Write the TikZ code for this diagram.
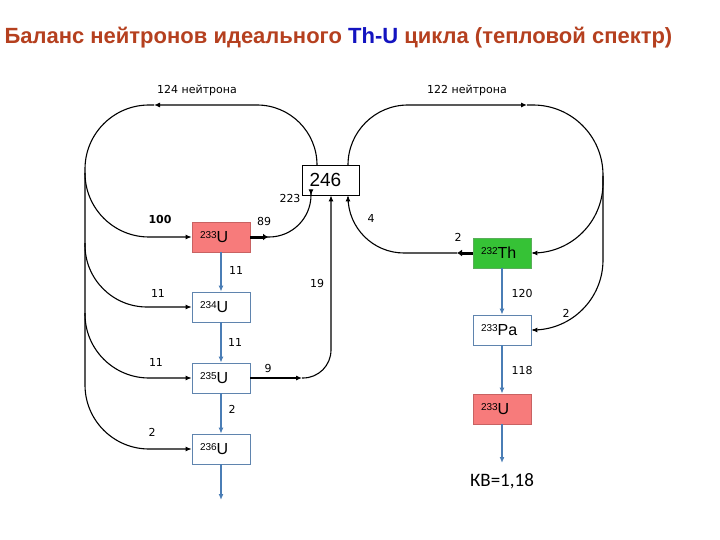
\documentclass[tikz,border=0pt]{standalone}
\usepackage{fontspec}
\setmainfont{Carlito}
\newfontfamily\titlefont{Liberation Sans}
\newfontfamily\numfont{DejaVu Sans}
\usetikzlibrary{arrows.meta, positioning}
\definecolor{ctitle}{HTML}{B5401F}
\definecolor{cthu}{HTML}{1414C0}
\definecolor{cred}{HTML}{F77B7B}
\definecolor{credline}{HTML}{C86262}
\definecolor{cgreen}{HTML}{36C236}
\definecolor{cgreenline}{HTML}{5AAE5A}
\definecolor{cblue}{HTML}{4A7DB5}
\definecolor{cboxline}{HTML}{5F84AE}
\newcommand\nucl[2]{\raisebox{4pt}{\fontsize{10}{10}\selectfont #1}#2}
\tikzset{
  every picture/.style={x=1pt, y=-1pt, line width=1.1pt},
  nuc/.style={draw=cboxline, line width=0.7pt, minimum height=30pt, text width=42pt,
    inner xsep=8pt, align=left, font=\titlefont\fontsize{16}{16}\selectfont},
  hot/.style={nuc, draw=credline, fill=cred},
  fert/.style={nuc, draw=cgreenline, fill=cgreen},
  tip/.style={-{Latex[length=6pt, width=5pt]}},
  flow/.style={draw=black, line width=1.1pt, rounded corners=#1, tip},
  flow/.default=0pt,
  fat/.style={draw=black, line width=3pt, -{Latex[length=5pt, width=7pt]}},
  chain/.style={draw=cblue, line width=1.6pt, -{Latex[length=6pt, width=5pt]}},
  lbl/.style={font=\numfont\fontsize{11}{11}\selectfont, inner sep=1pt},
}

\begin{document}
\begin{tikzpicture}
  \useasboundingbox (0,0) rectangle (720,540);
  % title
  \node[anchor=west, inner sep=0pt, text=ctitle, font=\titlefont\bfseries\fontsize{22}{22}\selectfont] (title) at (4,38)
    {Баланс нейтронов идеального \textcolor{cthu}{Th-U} цикла (тепловой спектр)};
  % pool of neutrons
  \node[draw, line width=0.8pt, minimum width=57pt, minimum height=30pt, inner xsep=7pt,
    text width=43pt, align=left, font=\titlefont\fontsize{19}{19}\selectfont] (n246) at (331,180) {246};
  % uranium chain
  \node[hot] (u233) at (221,237) {\nucl{233}{U}};
  \node[nuc] (u234) at (221,307) {\nucl{234}{U}};
  \node[nuc] (u235) at (221,378) {\nucl{235}{U}};
  \node[nuc] (u236) at (221,449) {\nucl{236}{U}};
  % thorium chain
  \node[fert] (th232) at (502,253) {\nucl{232}{Th}};
  \node[nuc] (pa233) at (502,330) {\nucl{233}{Pa}};
  \node[hot] (u233b) at (502,409) {\nucl{233}{U}};
  \node[font=\fontsize{19}{19}\selectfont] (kv) at (502,481) {КВ=1,18};
  % bends
  \coordinate (ltop) at (154,105);
  \coordinate (lside) at (85,173);
  \coordinate (lb234) at (85,243);
  \coordinate (lb235) at (85,313);
  \coordinate (rtop) at (527,105);
  \coordinate (rside) at (603,176);
  \coordinate (o89) at (268,237);
  \coordinate (o9) at (302,378);
  \coordinate (o2) at (457,253);
  \coordinate (end236) at (221,500);
  \coordinate (end233) at (502,463);
  % left loop
  \draw[flow=60] ([xshift=-14pt]n246.north) |- (ltop);
  \draw[flow=64] (ltop) -| (u233.west -| lside) -- (u233.west);
  \draw[flow=64] (lside) |- (u236.west);
  \draw[flow=62] (lb234) |- (u234.west);
  \draw[flow=64] (lb235) |- (u235.west);
  % right loop
  \draw[flow=60] ([xshift=17pt]n246.north) |- (rtop);
  \draw[flow=70] (rtop) -| (th232.east -| rside) -- (th232.east);
  \draw[flow=70] (rside) |- (pa233.east);
  % back into the pool
  \draw[fat] (u233.east) -- (o89);
  \draw[flow=42] ([xshift=-6pt]o89) -| ([xshift=-20pt]n246.south);
  \draw[flow] (u235.east) -- (o9);
  \draw[flow=28] (o9) -| (n246.south);
  \draw[fat] (th232.west) -- (o2);
  \draw[flow=56] (o2) -| ([xshift=17pt]n246.south);
  % decay and capture
  \draw[chain] (u233.south) -- (u234.north);
  \draw[chain] (u234.south) -- (u235.north);
  \draw[chain] (u235.south) -- (u236.north);
  \draw[chain] (u236.south) -- (end236);
  \draw[chain] (th232.south) -- (pa233.north);
  \draw[chain] (pa233.south) -- (u233b.north);
  \draw[chain] (u233b.south) -- (end233);
  % numbers
  \node[lbl] (l124) at (197,90) {124 нейтрона};
  \node[lbl] (l122) at (467,90) {122 нейтрона};
  \node[lbl, font=\numfont\bfseries\fontsize{11}{11}\selectfont] (l100) at (160,219) {100};
  \node[lbl] (l89) at (264,221) {89};
  \node[lbl] (l223) at (290,198) {223};
  \node[lbl] (l4) at (371,218) {4};
  \node[lbl] (l2th) at (458,237) {2};
  \node[lbl] (l11a) at (236,270) {11};
  \node[lbl] (l11b) at (158,293) {11};
  \node[lbl] (l19) at (317,283) {19};
  \node[lbl] (l120) at (522,293) {120};
  \node[lbl] (l2pa) at (566,313) {2};
  \node[lbl] (l11c) at (235,342) {11};
  \node[lbl] (l11d) at (156,362) {11};
  \node[lbl] (l9) at (268,368) {9};
  \node[lbl] (l118) at (522,370) {118};
  \node[lbl] (l2a) at (232,409) {2};
  \node[lbl] (l2b) at (152,432) {2};
\end{tikzpicture}
\end{document}
